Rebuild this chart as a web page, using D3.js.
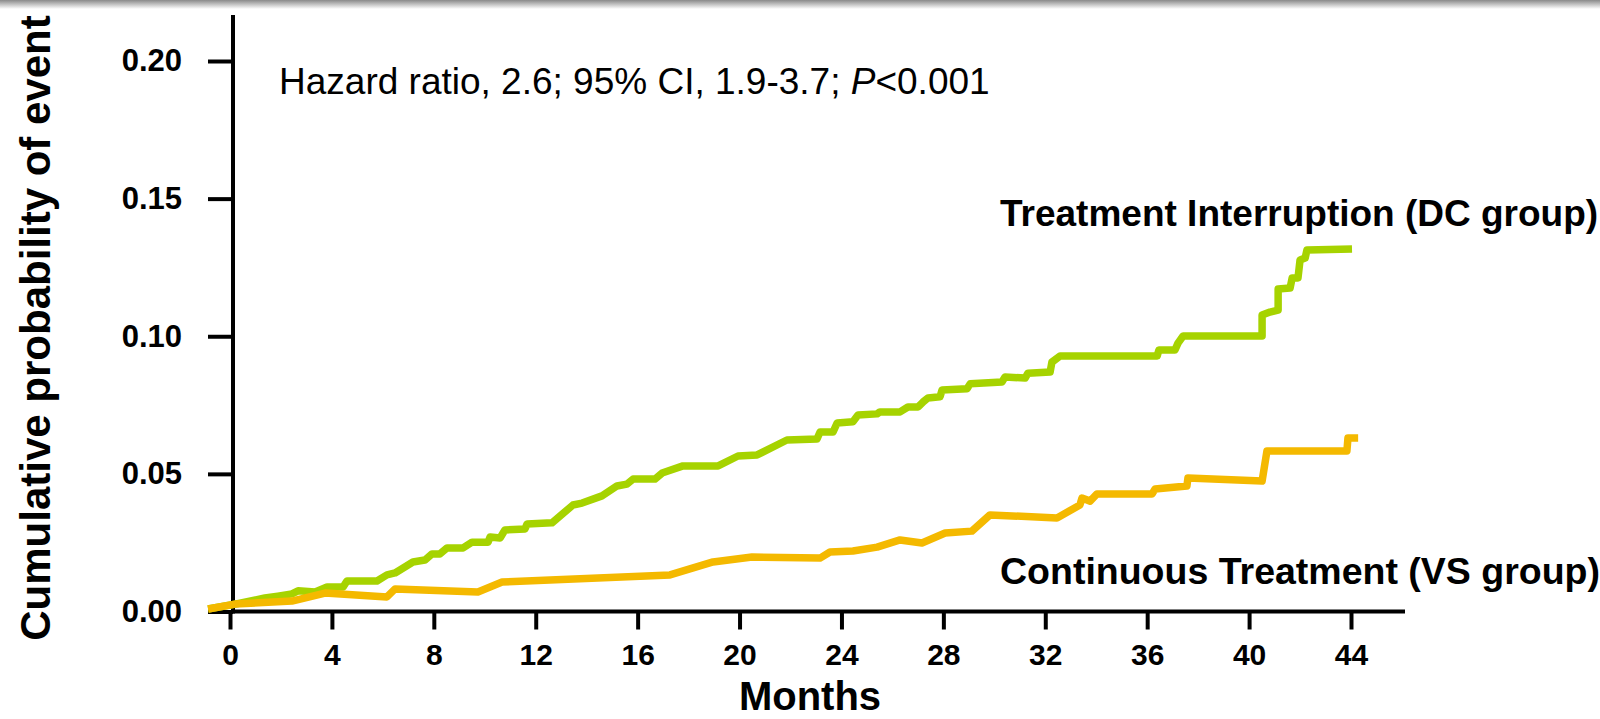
<!DOCTYPE html>
<html>
<head>
<meta charset="utf-8">
<title>Cumulative probability of event</title>
<script src="https://cdn.jsdelivr.net/npm/d3@7"></script>
<style>
  html, body { margin: 0; padding: 0; background: #fff; }
  svg { display: block; }
  text { font-family: "Liberation Sans", Arial, Helvetica, sans-serif; fill: #000; }
</style>
</head>
<body>
<svg id="chart" width="1600" height="719"></svg>
<script>
// Kaplan-Meier style cumulative event curves (month, cumulative probability)
const monthsDC = [-0.86, 0.2, 1.37, 1.88, 2.43, 2.67, 3.34, 3.81, 4.44, 4.59, 5.77, 6.16, 6.48, 7.18, 7.65, 7.93, 8.24, 8.52, 9.15, 9.5, 10.13, 10.21, 10.6, 10.79, 11.58, 11.66, 12.64, 13.46, 13.82, 14.6, 15.19, 15.58, 15.82, 16.68, 16.96, 17.78, 19.16, 19.94, 20.69, 21.86, 23.04, 23.16, 23.67, 23.83, 24.45, 24.65, 25.4, 25.51, 26.3, 26.61, 27.01, 27.2, 27.4, 27.87, 27.95, 28.93, 29.05, 30.3, 30.42, 31.21, 31.32, 32.19, 32.26, 32.58, 36.39, 36.46, 37.09, 37.21, 37.41, 40.51, 40.51, 40.82, 41.14, 41.14, 41.61, 41.69, 41.92, 42.0, 42.2, 42.27, 44.04];
const riskDC   = [0.0009, 0.0027, 0.0049, 0.0056, 0.0064, 0.0075, 0.0071, 0.0089, 0.0089, 0.0111, 0.0111, 0.0133, 0.014, 0.018, 0.0187, 0.0209, 0.0209, 0.0231, 0.0231, 0.0252, 0.0252, 0.0271, 0.0267, 0.0296, 0.03, 0.0318, 0.0322, 0.0387, 0.0394, 0.042, 0.0456, 0.0463, 0.0481, 0.0481, 0.0503, 0.0529, 0.0529, 0.0565, 0.0569, 0.0623, 0.0627, 0.0652, 0.0652, 0.0685, 0.0689, 0.0714, 0.0718, 0.0725, 0.0725, 0.0743, 0.0743, 0.0761, 0.0776, 0.078, 0.0805, 0.0809, 0.0827, 0.0834, 0.0852, 0.0848, 0.0866, 0.087, 0.0906, 0.0928, 0.0928, 0.095, 0.095, 0.0975, 0.1001, 0.1001, 0.1077, 0.1088, 0.1095, 0.1172, 0.1175, 0.1212, 0.1212, 0.1277, 0.1284, 0.1313, 0.1317];

const monthsVS = [-0.86, 0.2, 2.43, 3.73, 6.16, 6.48, 9.73, 10.68, 17.27, 18.96, 20.49, 23.16, 23.55, 24.45, 25.4, 26.3, 27.16, 28.07, 29.12, 29.83, 32.46, 33.36, 33.44, 33.76, 34.03, 36.19, 36.31, 37.56, 37.6, 40.51, 40.7, 43.84, 43.88, 44.28];
const riskVS   = [0.0009, 0.0027, 0.0038, 0.0067, 0.0053, 0.0082, 0.0071, 0.0107, 0.0133, 0.018, 0.0198, 0.0194, 0.0216, 0.022, 0.0234, 0.026, 0.0249, 0.0285, 0.0292, 0.0351, 0.034, 0.0387, 0.0412, 0.0401, 0.0427, 0.0427, 0.0445, 0.0456, 0.0485, 0.0474, 0.0583, 0.0583, 0.063, 0.063];

const xTicks = [0, 4, 8, 12, 16, 20, 24, 28, 32, 36, 40, 44];
const yTicks = [0, 0.05, 0.10, 0.15, 0.20];

const labelDC = "Treatment Interruption (DC group)";
const labelVS = "Continuous Treatment (VS group)";
const xTitle = "Months";
const yTitle = "Cumulative probability of event";

const colorDC = "#a6d300";
const colorVS = "#f4b900";

// ---- layout ----
const svg = d3.select("#chart");
const x = d3.scaleLinear().domain([0, 44]).range([230, 1351]);
const y = d3.scaleLinear().domain([0, 0.2]).range([611.5, 61]);
const axisX0 = 233;     // vertical axis position
const axisTop = 15;     // top end of vertical axis
const axisRight = 1405; // right end of horizontal axis

// faint shadow band along the top edge
const defs = svg.append("defs");
const grad = defs.append("linearGradient").attr("id", "topShade")
  .attr("x1", 0).attr("y1", 0).attr("x2", 0).attr("y2", 1);
grad.append("stop").attr("offset", "0%").attr("stop-color", "#8a8a8a");
grad.append("stop").attr("offset", "100%").attr("stop-color", "#ffffff");
svg.append("rect").attr("x", 0).attr("y", 0).attr("width", 1600).attr("height", 9)
  .attr("fill", "url(#topShade)");

// ---- axes ----
const yAxis = d3.axisLeft(y).tickValues(yTicks).tickSize(25).tickPadding(26)
  .tickFormat(d3.format(".2f"));
const gy = svg.append("g").attr("transform", `translate(${axisX0},0)`).call(yAxis);
gy.select(".domain").remove();
gy.selectAll(".tick line").attr("stroke", "#000").attr("stroke-width", 4);
gy.selectAll(".tick text").attr("font-size", 31).attr("font-weight", "bold")
  .style("font-family", "'Liberation Sans', Arial, sans-serif");

const xAxis = d3.axisBottom(x).tickValues(xTicks).tickSize(18).tickPadding(14);
const gx = svg.append("g").attr("transform", `translate(0,${y(0)})`).call(xAxis);
gx.select(".domain").remove();
gx.selectAll(".tick line").attr("stroke", "#000").attr("stroke-width", 4);
gx.selectAll(".tick text").attr("font-size", 30).attr("font-weight", "bold")
  .style("font-family", "'Liberation Sans', Arial, sans-serif");

// axis lines
svg.append("line").attr("x1", axisX0).attr("x2", axisX0)
  .attr("y1", axisTop).attr("y2", y(0) + 2)
  .attr("stroke", "#000").attr("stroke-width", 4);
svg.append("line").attr("x1", axisX0 - 2).attr("x2", axisRight)
  .attr("y1", y(0)).attr("y2", y(0))
  .attr("stroke", "#000").attr("stroke-width", 4);

// ---- curves ----
const line = d3.line().x(d => x(d[0])).y(d => y(d[1]));
const seriesDC = d3.zip(monthsDC, riskDC);
const seriesVS = d3.zip(monthsVS, riskVS);

svg.append("path").datum(seriesDC).attr("d", line)
  .attr("fill", "none").attr("stroke", colorDC).attr("stroke-width", 7.5)
  .attr("stroke-linejoin", "round").attr("stroke-linecap", "butt");
svg.append("path").datum(seriesVS).attr("d", line)
  .attr("fill", "none").attr("stroke", colorVS).attr("stroke-width", 7.5)
  .attr("stroke-linejoin", "round").attr("stroke-linecap", "butt");

// ---- text ----
const hr = svg.append("text").attr("x", 279).attr("y", 94)
  .attr("font-size", 37);
hr.append("tspan").text("Hazard ratio, 2.6; 95% CI, 1.9-3.7; ");
hr.append("tspan").attr("font-style", "italic").text("P");
hr.append("tspan").text("<0.001");

svg.append("text").attr("x", 1000).attr("y", 226)
  .attr("font-size", 37).attr("font-weight", "bold").text(labelDC);
svg.append("text").attr("x", 1000).attr("y", 584)
  .attr("font-size", 37.5).attr("font-weight", "bold").text(labelVS);

svg.append("text").attr("x", 810).attr("y", 710)
  .attr("text-anchor", "middle").attr("font-size", 40).attr("font-weight", "bold")
  .text(xTitle);

svg.append("text").attr("transform", "translate(50,328) rotate(-90)")
  .attr("text-anchor", "middle").attr("font-size", 42).attr("font-weight", "bold")
  .text(yTitle);
</script>
</body>
</html>
